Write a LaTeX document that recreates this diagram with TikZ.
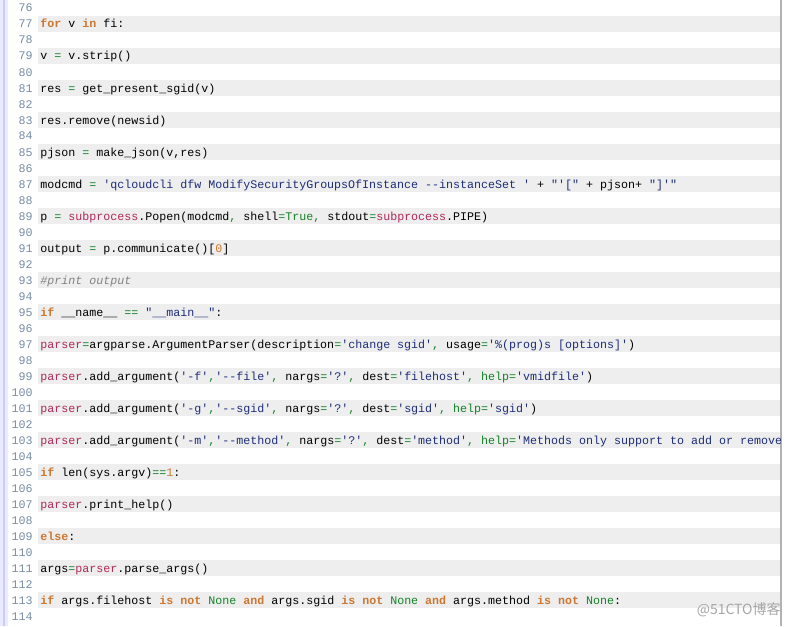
\documentclass[tikz,border=0pt]{standalone}
\usepackage{fontspec}
\setmonofont{Liberation Mono}
\newfontfamily\cjk{Noto Sans CJK SC}
\definecolor{kwc}{RGB}{204,120,50}
\definecolor{rdc}{RGB}{176,40,90}
\definecolor{grc}{RGB}{20,130,40}
\definecolor{stc}{RGB}{30,45,120}
\definecolor{cmc}{RGB}{130,130,130}
\definecolor{lnc}{RGB}{120,140,165}
\definecolor{band}{RGB}{238,238,238}
\newcommand\kw[1]{\textcolor{kwc}{\bfseries #1}}
\newcommand\gr[1]{\textcolor{grc}{#1}}
\newcommand\st[1]{\textcolor{stc}{#1}}
\newcommand\rd[1]{\textcolor{rdc}{#1}}
\newcommand\nm[1]{\textcolor{kwc}{#1}}
\newcommand\cm[1]{\textcolor{cmc}{\itshape #1}}
\tikzset{codeline/.style={anchor=base west,inner sep=0,font=\ttfamily\fontsize{5.83}{7}\selectfont},
lnum/.style={anchor=base east,inner sep=0,text=lnc,font=\ttfamily\fontsize{5.83}{7}\selectfont}}
\begin{document}
\begin{tikzpicture}[x=0.5pt,y=-0.5pt]
\useasboundingbox (0,0) rectangle (791,626);
\fill[white] (0,0) rectangle (791,626);
\fill[blue!8] (0,0) rectangle (8,626);
\draw[blue!20,line width=1pt] (4,0) -- (4,626);
\foreach \n in {77,79,...,113} {
  \fill[band] (38,{(\n-76)*16}) rectangle (780,{(\n-76)*16+16});
}
\foreach \n in {76,...,114} {
  \node[lnum] (n\n) at (33,{(\n-76)*16+12}) {\n};
}
\draw[gray!60,line width=1pt] (780.5,0) -- (780.5,626);
\begin{scope}
\clip (38,0) rectangle (780,626);
\newcommand\cl[2]{\node[codeline] (l#1) at (40,{(#1-76)*16+12}) {#2};}
\cl{77}{\kw{for} v \kw{in} fi:}
\cl{79}{v \gr{=} v.strip()}
\cl{81}{res \gr{=} get\_present\_sgid(v)}
\cl{83}{res.remove(newsid)}
\cl{85}{pjson \gr{=} make\_json(v,res)}
\cl{87}{modcmd \gr{=} \st{'qcloudcli dfw ModifySecurityGroupsOfInstance -{}-instanceSet '} + \st{"'["} + pjson+ \st{"]'"}}
\cl{89}{p \gr{=} \rd{subprocess}.Popen(modcmd\gr{,} shell\gr{=}\gr{True}\gr{,} stdout\gr{=}\rd{subprocess}.PIPE)}
\cl{91}{output \gr{=} p.communicate()[\nm{0}]}
\cl{93}{\cm{\#print output}}
\cl{95}{\kw{if} \_\_name\_\_ \gr{==} \st{"\_\_main\_\_"}:}
\cl{97}{\rd{parser}\gr{=}argparse.ArgumentParser(description\gr{=}\st{'change sgid'}\gr{,} usage\gr{=}\st{'\%(prog)s [options]'})}
\cl{99}{\rd{parser}.add\_argument(\st{'-f'}\gr{,}\st{'-{}-file'}\gr{,} nargs\gr{=}\st{'?'}\gr{,} dest\gr{=}\st{'filehost'}\gr{,} \gr{help=}\st{'vmidfile'})}
\cl{101}{\rd{parser}.add\_argument(\st{'-g'}\gr{,}\st{'-{}-sgid'}\gr{,} nargs\gr{=}\st{'?'}\gr{,} dest\gr{=}\st{'sgid'}\gr{,} \gr{help=}\st{'sgid'})}
\cl{103}{\rd{parser}.add\_argument(\st{'-m'}\gr{,}\st{'-{}-method'}\gr{,} nargs\gr{=}\st{'?'}\gr{,} dest\gr{=}\st{'method'}\gr{,} \gr{help=}\st{'Methods only support to add or remove}}
\cl{105}{\kw{if} len(sys.argv)\gr{==}\nm{1}:}
\cl{107}{\rd{parser}.print\_help()}
\cl{109}{\kw{else}:}
\cl{111}{args\gr{=}\rd{parser}.parse\_args()}
\cl{113}{\kw{if} args.filehost \kw{is not} \gr{None} \kw{and} args.sgid \kw{is not} \gr{None} \kw{and} args.method \kw{is not} \gr{None}:}
\end{scope}
\node[anchor=base east,inner sep=0,text=gray!70,font=\cjk\fontsize{7}{8}\selectfont] (wm) at (781,614) {@51CTO博客};
\end{tikzpicture}
\end{document}
